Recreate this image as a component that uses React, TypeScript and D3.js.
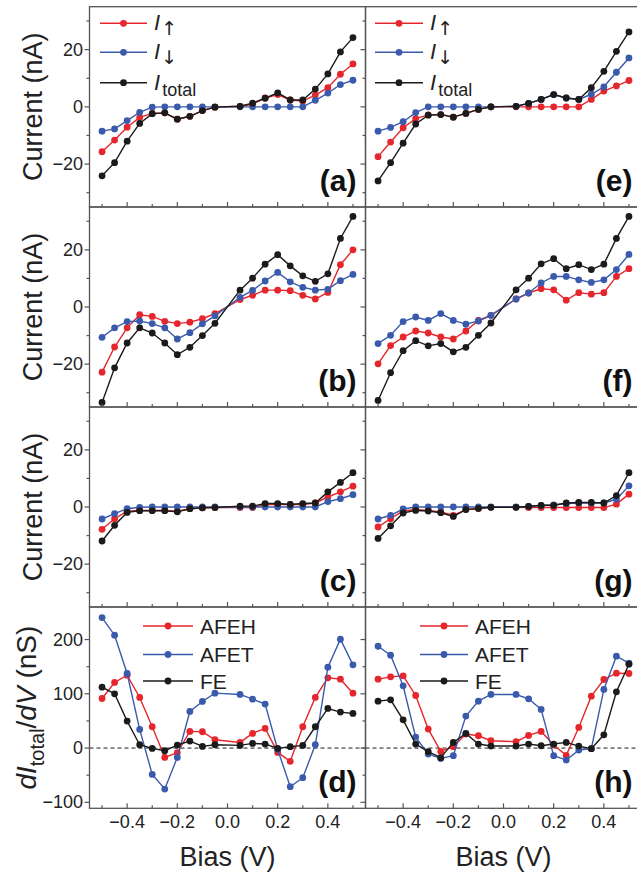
import React from "react";
import * as d3 from "d3";

const bias = [-0.5,-0.45,-0.4,-0.35,-0.3,-0.25,-0.2,-0.15,-0.1,-0.05,0.05,0.1,0.15,0.2,0.25,0.3,0.35,0.4,0.45,0.5];

const aUp = [-15.7,-11.6,-7.1,-3.7,-2.3,-2.1,-4.3,-3.3,-1.3,-0.1,0.2,0.9,3.1,4.3,2.4,2.0,4.1,6.7,11.4,15.0];
const aDown = [-8.5,-7.7,-4.8,-1.9,-0.1,0,0,0,0,0,0,0,0,0,0,0,2.3,4.8,7.8,9.3];
const aTotal = [-24.1,-19.5,-12.0,-5.8,-2.4,-2.1,-4.3,-3.3,-1.3,-0.1,0.2,1.3,3.0,4.9,2.4,2.4,6.2,11.5,19.2,24.2];

const eUp = [-17.4,-12.3,-7.3,-4.1,-2.8,-2.7,-3.6,-2.3,-0.9,0,0,0,0,0,0,0,2.6,5.5,7.3,9.2];
const eDown = [-8.5,-7.2,-5.2,-2.0,0,0,0,0,0,0,0.2,1.2,2.6,4.3,3.1,2.6,4.4,7.0,12.1,17.1];
const eTotal = [-25.9,-19.5,-12.7,-6.0,-2.9,-2.7,-3.6,-2.3,-0.9,0,0.2,1.2,2.6,4.3,3.1,2.6,6.7,12.4,19.4,26.2];

const bUp = [-22.8,-14.0,-7.3,-2.7,-3.3,-5.0,-5.8,-5.3,-4.1,-2.3,2.6,4.1,5.9,5.9,5.7,4.1,2.8,5.1,14.8,20.0];
const bDown = [-10.6,-7.3,-5.1,-4.9,-5.8,-7.3,-11.2,-9.0,-5.9,-3.1,3.4,5.8,9.1,12.1,8.8,6.9,5.9,6.2,9.2,11.4];
const bTotal = [-33.4,-21.3,-12.6,-7.3,-9.1,-12.6,-16.7,-14.1,-10.0,-5.7,5.9,10.1,15.0,18.3,14.4,10.9,9.0,11.6,24.0,31.7];

const fUp = [-19.9,-13.5,-10.5,-8.4,-9.1,-10.5,-11.2,-8.4,-4.7,-2.9,2.8,4.9,6.4,6.0,2.4,5.0,4.5,5.0,10.7,13.4];
const fDown = [-12.8,-9.9,-5.1,-3.5,-4.7,-2.3,-4.7,-6.0,-4.9,-2.9,2.8,4.9,8.4,10.7,10.7,9.5,8.6,9.5,13.1,18.4];
const fTotal = [-32.7,-23.0,-15.3,-11.8,-13.6,-12.8,-15.7,-14.1,-9.9,-5.6,6.0,10.1,15.1,16.9,13.4,14.8,13.1,15.0,24.0,31.7];

const cUp = [-7.8,-4.1,-1.5,-1.2,-1.2,-1.2,-1.5,-0.6,-0.3,-0.2,-0.2,-0.2,0.9,0.9,0.9,0.9,1.4,3.5,5.3,7.3];
const cDown = [-4.2,-2.3,-0.6,-0.1,0,0,0,0,0,0,0,0,0,0,0,0,0,1.9,2.9,4.3];
const cTotal = [-11.9,-6.4,-1.9,-1.3,-1.3,-1.3,-1.7,-0.6,-0.3,-0.2,0.3,0.3,1.2,1.2,0.9,1.2,1.4,5.3,8.6,12.0];

const gUp = [-7.0,-4.1,-1.4,-0.9,-1.2,-1.7,-2.9,-0.9,-0.5,-0.1,-0.1,-0.2,-0.2,-0.2,-0.2,-0.2,-0.2,-0.2,1.0,4.5];
const gDown = [-4.2,-2.9,-0.7,0,0,0,0,0,0,0,0,0.2,0.5,0.7,1.2,1.4,1.4,1.4,2.7,7.4];
const gTotal = [-11.0,-6.6,-2.1,-1.2,-1.4,-2.0,-3.3,-0.9,-0.5,-0.1,-0.1,0.2,0.6,0.6,1.4,1.6,1.6,1.4,4.0,12.0];

const dAFEH = [91.4,120.9,134.4,93.3,39.3,-17.2,-8.6,30.7,30.1,15.3,10.4,27.0,36.2,-8.0,-24.5,39.3,93.3,129.4,127.0,101.2];
const dAFET = [240.5,208.0,137.4,34.4,-48.5,-75.5,-17.2,67.5,85.9,101.2,98.8,90.2,81.0,-2.5,-71.2,-54.6,6.1,149.1,200.6,153.4];
const dFE = [112.3,100.0,49.7,6.1,-0.6,-4.9,5.5,12.9,3.1,6.1,4.9,8.6,7.4,-0.6,2.5,4.9,39.3,73.0,66.3,63.8];

const hAFEH = [127.0,131.3,133.1,96.9,35.0,-6.1,2.5,25.8,22.7,13.5,11.7,23.3,30.7,5.5,-13.5,38.0,95.7,126.4,138.0,137.4];
const hAFET = [187.7,171.2,114.7,20.2,-11.0,-19.0,-14.1,58.9,86.5,98.8,98.8,90.8,71.2,-14.1,-22.1,-3.7,-1.2,108.0,169.3,156.4];
const hFE = [86.5,89.0,52.1,7.4,-6.7,-17.8,10.4,27.0,7.4,3.7,3.7,7.4,4.3,7.4,10.4,3.7,-1.2,24.5,103.7,154.6];

const xMajor = [-0.4, -0.2, 0, 0.2, 0.4];
const xMinor = [-0.5, -0.3, -0.1, 0.1, 0.3, 0.5];
const xTickLabels = ["\u22120.4", "\u22120.2", "0.0", "0.2", "0.4"];
const iMajor = [-20, 0, 20];
const iMinor = [-30, -10, 10, 30];
const iTickLabels = ["\u221220", "0", "20"];
const gMajor = [-100, 0, 100, 200];
const gMinor = [-50, 50, 150];
const gTickLabels = ["\u2212100", "0", "100", "200"];
const currentLegend = ["\u2191", "\u2193", "total"];
const condLegend = ["AFEH", "AFET", "FE"];

const RED = "#e5262c";
const BLUE = "#3a5aab";
const BLACK = "#1b1b1b";
const FRAME = "#555";
const TXT = "#222";
const FONT = "'Liberation Sans', Arial, Helvetica, sans-serif";
const ARROW_FONT = "'DejaVu Sans', sans-serif";

const colX: [number, number][] = [[89.5, 365.5], [365.5, 641.5]];
const rowY: [number, number][] = [[6.7, 207], [207, 407], [407, 607], [607, 808.3]];

type Panel = { col: number; row: number; label: string; series: { v: number[]; c: string }[] };
const panels: Panel[] = [
  { col: 0, row: 0, label: "(a)", series: [{ v: aUp, c: RED }, { v: aDown, c: BLUE }, { v: aTotal, c: BLACK }] },
  { col: 0, row: 1, label: "(b)", series: [{ v: bUp, c: RED }, { v: bDown, c: BLUE }, { v: bTotal, c: BLACK }] },
  { col: 0, row: 2, label: "(c)", series: [{ v: cUp, c: RED }, { v: cDown, c: BLUE }, { v: cTotal, c: BLACK }] },
  { col: 0, row: 3, label: "(d)", series: [{ v: dAFEH, c: RED }, { v: dAFET, c: BLUE }, { v: dFE, c: BLACK }] },
  { col: 1, row: 0, label: "(e)", series: [{ v: eUp, c: RED }, { v: eDown, c: BLUE }, { v: eTotal, c: BLACK }] },
  { col: 1, row: 1, label: "(f)", series: [{ v: fUp, c: RED }, { v: fDown, c: BLUE }, { v: fTotal, c: BLACK }] },
  { col: 1, row: 2, label: "(g)", series: [{ v: gUp, c: RED }, { v: gDown, c: BLUE }, { v: gTotal, c: BLACK }] },
  { col: 1, row: 3, label: "(h)", series: [{ v: hAFEH, c: RED }, { v: hAFET, c: BLUE }, { v: hFE, c: BLACK }] },
];
const legendColors = [RED, BLUE, BLACK];

function PanelView({ p }: { p: Panel }) {
  const [x0, x1] = colX[p.col];
  const [y0, y1] = rowY[p.row];
  const isG = p.row === 3;
  const x = d3.scaleLinear().domain([-0.55, 0.55]).range([x0, x1]);
  const y = d3.scaleLinear().domain(isG ? [-111, 260] : [-35, 35]).range([y1, y0]);
  const line = d3.line<number>().x((_, i) => x(bias[i])).y((d) => y(d));
  const major = isG ? gMajor : iMajor;
  const minor = isG ? gMinor : iMinor;
  const majorLabels = isG ? gTickLabels : iTickLabels;
  const clipId = `clip-${p.col}-${p.row}`;

  const legY = isG ? [626, 654.5, 681] : [23.3, 52.3, 82.7];
  const legX = p.col === 0 ? (isG ? [143, 193] : [100, 147]) : (isG ? [420, 468] : [375, 423]);
  const legT = p.col === 0 ? (isG ? 200 : 154) : (isG ? 475 : 430);

  return (
    <g>
      <defs>
        <clipPath id={clipId}>
          <rect x={x0} y={y0} width={x1 - x0} height={y1 - y0} />
        </clipPath>
      </defs>
      {isG && (
        <line x1={x0} x2={x1} y1={y(0)} y2={y(0)} stroke={BLACK} strokeWidth={1} strokeDasharray="4,3" />
      )}
      <g clipPath={`url(#${clipId})`}>
        {p.series.map((s, si) => (
          <g key={si}>
            <path d={line(s.v) || ""} fill="none" stroke={s.c} strokeWidth={1.4} />
            {s.v.map((d, i) => (
              <circle key={i} cx={x(bias[i])} cy={y(d)} r={3.4} fill={s.c} />
            ))}
          </g>
        ))}
      </g>
      <rect x={x0} y={y0} width={x1 - x0} height={y1 - y0} fill="none" stroke={FRAME} strokeWidth={1.3} />
      {major.map((t) => (
        <line key={"M" + t} x1={x0 - 5} x2={x0} y1={y(t)} y2={y(t)} stroke={FRAME} strokeWidth={1.2} />
      ))}
      {minor.map((t) => (
        <line key={"m" + t} x1={x0 - 3} x2={x0} y1={y(t)} y2={y(t)} stroke={FRAME} strokeWidth={1.2} />
      ))}
      {xMajor.map((t) => (
        <line key={"xM" + t} x1={x(t)} x2={x(t)} y1={y1} y2={y1 - 5} stroke={FRAME} strokeWidth={1.2} />
      ))}
      {xMinor.map((t) => (
        <line key={"xm" + t} x1={x(t)} x2={x(t)} y1={y1} y2={y1 - 3} stroke={FRAME} strokeWidth={1.2} />
      ))}
      {p.col === 0 &&
        major.map((t, i) => (
          <text key={"L" + t} x={83} y={y(t) + 6} textAnchor="end" fontSize={18} fill={TXT} fontFamily={FONT}>
            {majorLabels[i]}
          </text>
        ))}
      {p.row === 3 &&
        xMajor.map((t, i) => (
          <text key={"XL" + t} x={x(t)} y={828} textAnchor="middle" fontSize={18} fill={TXT} fontFamily={FONT}>
            {xTickLabels[i]}
          </text>
        ))}
      <text x={x1 - 9} y={y1 - 16} textAnchor="end" fontSize={30} fontWeight="bold" fill="#111" fontFamily={FONT}>
        {p.label}
      </text>
      {(p.row === 0 || p.row === 3) &&
        legendColors.map((c, i) => (
          <g key={"leg" + i}>
            <line x1={legX[0]} x2={legX[1]} y1={legY[i]} y2={legY[i]} stroke={c} strokeWidth={1.4} />
            <circle cx={(legX[0] + legX[1]) / 2} cy={legY[i]} r={3.4} fill={c} />
            {isG ? (
              <text x={legT} y={legY[i] + 7.5} fontSize={21} fill={TXT} fontFamily={FONT}>
                {condLegend[i]}
              </text>
            ) : (
              <text x={legT} y={legY[i] + 7} fontSize={22} fill={TXT} fontFamily={FONT}>
                <tspan fontStyle="italic">I</tspan>
                {i < 2 ? (
                  <tspan fontSize={19} dy={5} dx={1} fontFamily={ARROW_FONT}>
                    {currentLegend[i]}
                  </tspan>
                ) : (
                  <tspan fontSize={18} dy={6} dx={2}>
                    {currentLegend[i]}
                  </tspan>
                )}
              </text>
            )}
          </g>
        ))}
    </g>
  );
}

export default function App() {
  return (
    <svg
      width={637}
      height={875}
      viewBox="0 0 637 875"
      style={{ position: "absolute", left: 0, top: 0, background: "#fff" }}
    >
      <rect x={0} y={0} width={637} height={875} fill="#fff" />
      {panels.map((p, i) => (
        <PanelView key={i} p={p} />
      ))}
      {[0, 1, 2].map((r) => {
        const cy = (rowY[r][0] + rowY[r][1]) / 2;
        return (
          <text
            key={"yt" + r}
            transform={`translate(42,${cy}) rotate(-90)`}
            textAnchor="middle"
            fontSize={27}
            fill={TXT}
            fontFamily={FONT}
          >
            Current (nA)
          </text>
        );
      })}
      <text
        transform={`translate(36,${(rowY[3][0] + rowY[3][1]) / 2}) rotate(-90)`}
        textAnchor="middle"
        fontSize={28}
        fill={TXT}
        fontFamily={FONT}
      >
        <tspan fontStyle="italic">dI</tspan>
        <tspan fontSize={20} dy={8}>total</tspan>
        <tspan dy={-8}>/</tspan>
        <tspan fontStyle="italic">dV</tspan>
        <tspan> (nS)</tspan>
      </text>
      {[0, 1].map((c) => (
        <text
          key={"bx" + c}
          x={(colX[c][0] + colX[c][1]) / 2}
          y={866}
          textAnchor="middle"
          fontSize={27}
          fill={TXT}
          fontFamily={FONT}
        >
          Bias (V)
        </text>
      ))}
    </svg>
  );
}
